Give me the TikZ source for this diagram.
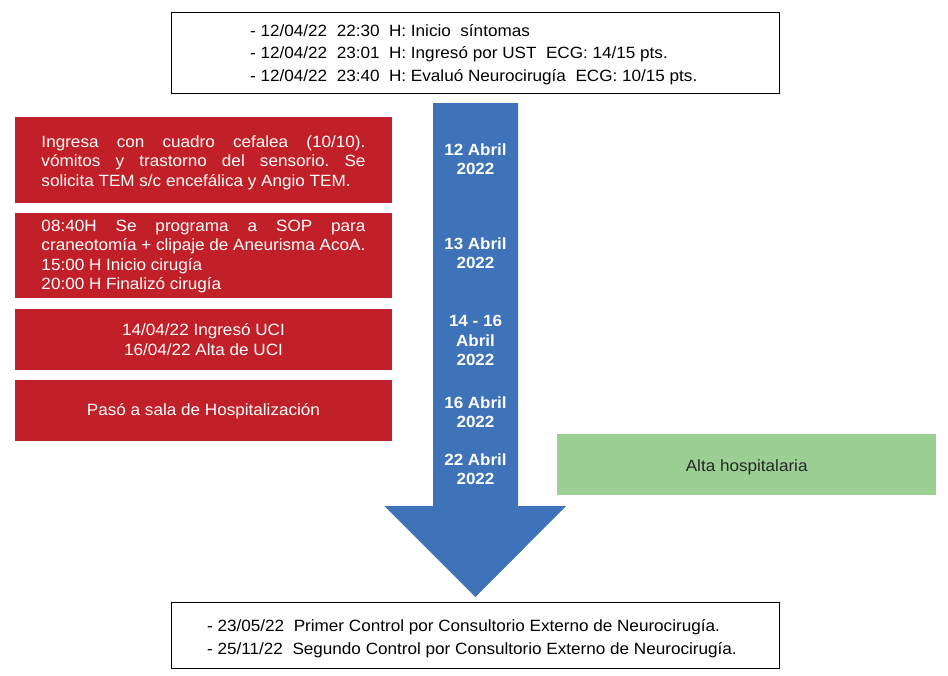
\documentclass[tikz,border=0pt]{standalone}
\usepackage{fontspec}
\setmainfont[FakeStretch=1.05]{Liberation Sans}
\definecolor{boxred}{RGB}{193,32,40}
\definecolor{arrowblue}{RGB}{62,115,185}
\definecolor{boxgreen}{RGB}{155,207,148}
\frenchspacing
\begin{document}
\begin{tikzpicture}[x=1pt,y=-1pt,
  infobox/.style={draw=black,line width=0.9pt,fill=white,minimum width=608pt,inner sep=0pt,anchor=north west},
  redtxt/.style={text=white,inner sep=0pt,font=\fontsize{16.3}{19.6}\selectfont},
  datelbl/.style={text=white,font=\bfseries\fontsize{16.2}{19.3}\selectfont,align=center,inner sep=0pt},
  linetxt/.style={font=\fontsize{16.3}{22.6}\selectfont,align=left,inner sep=0pt,anchor=west}
]
\useasboundingbox (0,0) rectangle (948,675);
% top box
\node[infobox,minimum height=81pt] (top) at (171,12) {};
\node[linetxt] (toptxt) at (250,54.5) {- 12/04/22\ \ 22:30\ \ H: Inicio\ \ síntomas\\- 12/04/22\ \ 23:01\ \ H: Ingresó por UST\ \ ECG: 14/15 pts.\\- 12/04/22\ \ 23:40\ \ H: Evaluó Neurocirugía\ \ ECG: 10/15 pts.};
% arrow
\fill[arrowblue] (433,103) -- (518,103) -- (518,506) -- (566,506) -- (475.5,597) -- (384.5,506) -- (433,506) -- cycle;
\node[datelbl] (d1) at (475.5,159) {12 Abril\\2022};
\node[datelbl] (d2) at (475.5,253) {13 Abril\\2022};
\node[datelbl] (d3) at (475.5,340.5) {14 - 16\\Abril\\2022};
\node[datelbl] (d4) at (475.5,412) {16 Abril\\2022};
\node[datelbl] (d5) at (475.5,469) {22 Abril\\2022};
% red boxes
\fill[boxred] (15,117) rectangle (392,203);
\fill[boxred] (15,213) rectangle (392,298);
\fill[boxred] (15,309) rectangle (392,370);
\fill[boxred] (15,380) rectangle (392,441);
\node[redtxt,text width=324pt,align=justify] (r1) at (203.5,162.5) {\hyphenpenalty=10000 Ingresa con cuadro cefalea (10/10).\linebreak vómitos y trastorno del sensorio. Se\linebreak solicita TEM s/c encefálica y Angio TEM.};
\node[redtxt,text width=324pt,align=justify] (r2) at (203.5,256.5) {\hyphenpenalty=10000 08:40H Se programa a SOP para\linebreak craneotomía + clipaje de Aneurisma AcoA.\\15:00 H Inicio cirugía\\20:00 H Finalizó cirugía};
\node[redtxt,align=center] (r3) at (203.5,339.5) {14/04/22 Ingresó UCI\\16/04/22 Alta de UCI};
\node[redtxt] (r4) at (203.5,411) {Pasó a sala de Hospitalización};
% green box
\node[fill=boxgreen,minimum width=379pt,minimum height=61pt,inner sep=0pt,anchor=north west] (alta) at (557,434) {};
\node[text=black!85,inner sep=0pt,font=\fontsize{16.3}{19.6}\selectfont] (altatxt) at ([yshift=-2.5pt]alta.center) {Alta hospitalaria};
% bottom box
\node[infobox,minimum height=66pt] (bot) at (171,602) {};
\node[linetxt] (bottxt) at (207,638.5) {- 23/05/22\ \ Primer Control por Consultorio Externo de Neurocirugía.\\- 25/11/22\ \ Segundo Control por Consultorio Externo de Neurocirugía.};
\end{tikzpicture}
\end{document}
